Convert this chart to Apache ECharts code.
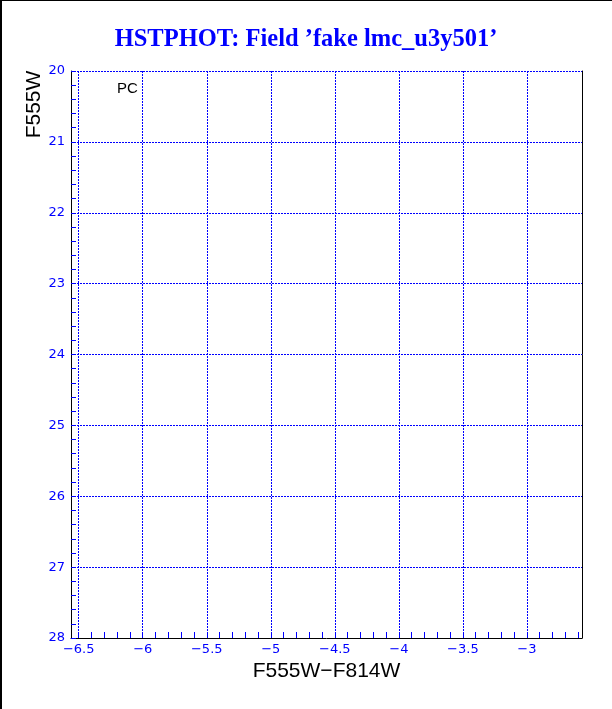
<!DOCTYPE html>
<html>
<head>
<meta charset="utf-8">
<script src="https://cdn.jsdelivr.net/npm/echarts@6/dist/echarts.min.js"></script>
<style>
html,body{margin:0;padding:0;background:#fff;}
#chart{width:612px;height:709px;}
</style>
</head>
<body>
<div id="chart"></div>
<script>
// ---- data ----
const titleText = 'HSTPHOT: Field \u2019fake lmc_u3y501\u2019';
const xName = 'F555W\u2212F814W';
const yName = 'F555W';
const panelLabel = 'PC';
const xRange = [-6.56, -2.57];
const yRange = [20, 28];
const xMajorTicks = [-6.5, -6, -5.5, -5, -4.5, -4, -3.5, -3];
const xMinorTicks = [-6.4, -6.3, -6.2, -6.1, -5.9, -5.8, -5.7, -5.6, -5.4, -5.3, -5.2, -5.1,
  -4.9, -4.8, -4.7, -4.6, -4.4, -4.3, -4.2, -4.1, -3.9, -3.8, -3.7, -3.6,
  -3.4, -3.3, -3.2, -3.1, -2.9, -2.8, -2.7, -2.6];
const points = []; // no stars plotted in this field

const BLUE = '#0000ff';
const chart = echarts.init(document.getElementById('chart'), null, {renderer: 'canvas'});
const fmt = v => String(v).replace('-', '\u2212');

chart.setOption({
  animation: false,
  backgroundColor: '#fff',
  title: {
    text: titleText,
    left: 'center',
    top: 22,
    textStyle: {fontFamily: 'Liberation Serif', fontWeight: 'bold', fontSize: 24.5, color: BLUE}
  },
  grid: {left: 71, right: 30, top: 71, bottom: 71, containLabel: false},
  xAxis: [{
    type: 'value', position: 'bottom', min: xRange[0], max: xRange[1],
    name: xName, nameLocation: 'middle', nameGap: 15,
    nameTextStyle: {fontFamily: 'Liberation Sans', fontSize: 21, color: '#000'},
    axisLine: {show: true, onZero: false, lineStyle: {color: '#000', width: 1}},
    axisTick: {show: true, inside: true, length: 6, customValues: xMajorTicks, lineStyle: {color: BLUE}},
    axisLabel: {show: true, customValues: xMajorTicks, margin: 5, formatter: fmt,
      fontFamily: 'DejaVu Sans', fontSize: 13, color: BLUE},
    splitLine: {show: true, lineStyle: {color: BLUE, type: [2, 1], width: 1}}
  }, {
    type: 'value', position: 'bottom', min: xRange[0], max: xRange[1],
    axisLine: {show: false, onZero: false},
    axisTick: {show: true, inside: true, length: 6, customValues: xMinorTicks, lineStyle: {color: BLUE}},
    axisLabel: {show: false},
    splitLine: {show: false}
  }],
  yAxis: [{
    type: 'value', position: 'left', inverse: true, min: yRange[0], max: yRange[1], interval: 1,
    axisLine: {show: true, onZero: false, lineStyle: {color: '#000', width: 1}},
    axisTick: {show: true, inside: true, length: 5, lineStyle: {color: BLUE}},
    minorTick: {show: true, splitNumber: 5, length: 5, lineStyle: {color: BLUE, width: 1}},
    axisLabel: {show: true, margin: 6, fontFamily: 'DejaVu Sans', fontSize: 13, color: BLUE},
    splitLine: {show: true, showMaxLine: false, lineStyle: {color: BLUE, type: [2, 1], width: 1}}
  }, {
    type: 'value', position: 'right', inverse: true, min: yRange[0], max: yRange[1],
    axisLine: {show: true, onZero: false, lineStyle: {color: '#000', width: 1}},
    axisTick: {show: false}, axisLabel: {show: false}, splitLine: {show: false}
  }],
  series: [{
    type: 'scatter', xAxisIndex: 0, yAxisIndex: 0, data: points, symbolSize: 2,
    itemStyle: {color: '#000'}
  }],
  graphic: [
    {type: 'text', left: 117, top: 81, style: {text: panelLabel, font: '15px "Liberation Sans"', fill: '#000'}},
    {type: 'text', x: 34, y: 104.5, rotation: Math.PI / 2,
      style: {text: yName, font: '21px "Liberation Sans"', fill: '#000', align: 'center', verticalAlign: 'middle'}},
    {type: 'line', shape: {x1: 1, y1: 0, x2: 1, y2: 709}, style: {stroke: '#000', lineWidth: 2}},
    {type: 'line', shape: {x1: 0, y1: 0.5, x2: 612, y2: 0.5}, style: {stroke: '#000', lineWidth: 1}}
  ]
});
</script>
</body>
</html>
